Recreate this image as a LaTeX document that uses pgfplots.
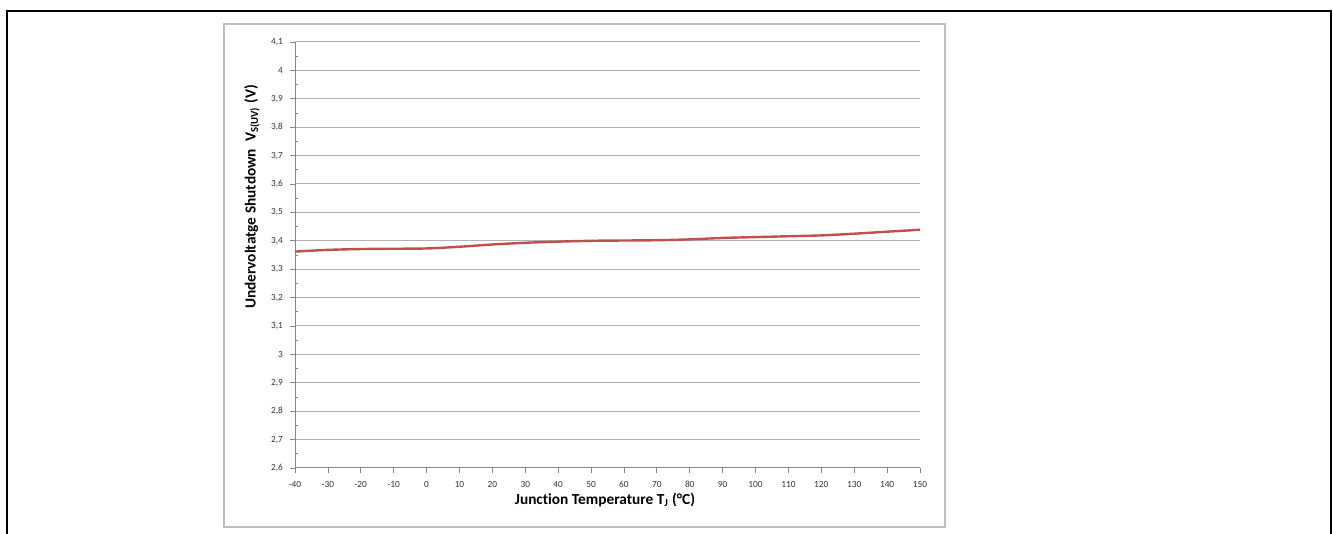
\documentclass[border=0pt]{standalone}
\usepackage{fontspec}
\setmainfont{Carlito}[Ligatures=NoCommon]
\usepackage{pgfplots}
\pgfplotsset{compat=1.18}

\definecolor{gridgray}{HTML}{B3B3B3}
\definecolor{axisgray}{HTML}{868686}
\definecolor{framegray}{HTML}{BFBFBF}
\definecolor{curvered}{HTML}{C0504D}

\begin{document}
\begin{tikzpicture}[x=0.75pt,y=0.75pt]
  % page = 1333 x 534 px, 1 px = 0.75pt
  \clip (0,0) rectangle (1333,534);
  \fill[white] (0,0) rectangle (1333,534);
  \draw[black, line width=1.1pt] (7,-10) -- (7,523) -- (1331,523) -- (1331,-10);
  \draw[framegray, line width=0.8pt] (224,7) rectangle (945,510);

  \begin{axis}[
      at={(221.25pt,49.5pt)}, anchor=south west,
      scale only axis,
      width=468.75pt, height=319.5pt,
      xmin=-40, xmax=150,
      ymin=2.6, ymax=4.1,
      xtick={-40,-30,...,150},
      xticklabels={-40,-30,-20,-10,0,10,20,30,40,50,60,70,80,90,100,110,120,130,140,150},
      ytick={2.6,2.7,...,4.15},
      yticklabels={{2,6},{2,7},{2,8},{2,9},3,{3,1},{3,2},{3,3},{3,4},{3,5},{3,6},{3,7},{3,8},{3,9},4,{4,1}},
      minor y tick num=1,
      ymajorgrids=true,
      major grid style={gridgray, line width=0.75pt},
      axis x line*=bottom, axis y line*=left,
      axis line style={axisgray, line width=0.75pt},
      tick style={axisgray, line width=0.6pt},
      tick align=outside,
      major tick length=3.5pt,
      minor tick length=2pt,
      minor tick style={xshift=2pt},
      ticklabel style={font=\fontsize{7}{8}\selectfont, text=black!80},
      xticklabel style={yshift=-3pt},
      yticklabel style={xshift=-2pt},
      clip=false,
    ]
    \addplot[curvered, line width=1.8pt, smooth, tension=0.5] coordinates {
      (-40,3.362) (-30,3.368) (-20,3.371) (-10,3.372) (0,3.373)
      (10,3.379) (20,3.387) (30,3.393) (40,3.397) (50,3.400)
      (60,3.401) (70,3.402) (80,3.405) (90,3.410) (100,3.413)
      (110,3.416) (120,3.419) (130,3.425) (140,3.432) (150,3.439)
    };
  \end{axis}

  \node[font=\fontsize{11.5}{13}\selectfont\bfseries] at (605,34)
    {Junction Temperature T\textsubscript{J} (°C)};
  \node[font=\fontsize{11.5}{13}\selectfont\bfseries, rotate=90] at (252,337)
    {Undervoltatge Shutdown\ \ V\textsubscript{S(UV)} (V)};
\end{tikzpicture}
\end{document}
